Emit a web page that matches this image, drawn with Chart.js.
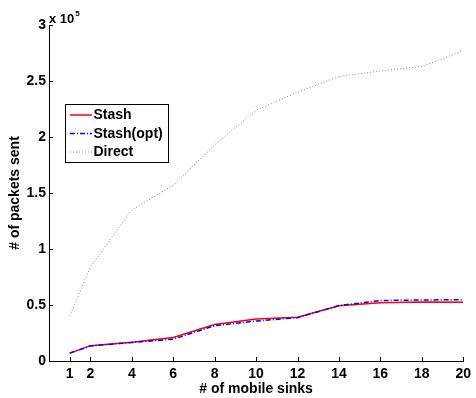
<!DOCTYPE html>
<html>
<head>
<meta charset="utf-8">
<script src="https://cdn.jsdelivr.net/npm/chart.js@4/dist/chart.umd.min.js"></script>
<style>
  html, body { margin: 0; padding: 0; background: #fff; }
  #wrap { width: 476px; height: 398px; }
</style>
</head>
<body>
<div id="wrap"><canvas id="c" width="476" height="398"></canvas></div>
<script>
// Number of mobile sinks
const sinks = [1, 2, 4, 6, 8, 10, 12, 14, 16, 18, 20];
// Packets sent
const stash    = [7000, 13700, 16700, 21000, 32500, 37500, 39000, 49300, 52000, 52700, 52400];
const stashOpt = [7000, 13500, 16500, 19500, 31500, 35700, 38700, 49500, 54000, 54500, 54700];
const direct   = [40000, 84000, 135000, 157000, 193000, 224000, 240000, 254000, 259000, 263000, 277000];
// Axis ticks
const xTicks = [1, 2, 4, 6, 8, 10, 12, 14, 16, 18, 20];
const yMax = 300000;
const yStep = 50000;

const FONT = 'Liberation Sans, Arial, Helvetica, sans-serif';

const toPts = (ys) => sinks.map((x, i) => ({ x: x, y: ys[i] }));

// Inward tick marks, legend box and exponent label
const decorations = {
  id: 'decorations',
  afterDraw(chart) {
    const ctx = chart.ctx;
    const xs = chart.scales.x, ys = chart.scales.y;
    const area = chart.chartArea;
    ctx.save();
    ctx.strokeStyle = '#000';
    ctx.lineWidth = 1;
    ctx.beginPath();
    xs.ticks.forEach(t => {
      const px = Math.round(xs.getPixelForValue(t.value)) + 0.5;
      ctx.moveTo(px, area.bottom);
      ctx.lineTo(px, area.bottom - 4);
    });
    ys.ticks.forEach(t => {
      const py = Math.round(ys.getPixelForValue(t.value)) + 0.5;
      ctx.moveTo(area.left, py);
      ctx.lineTo(area.left + 4, py);
    });
    ctx.stroke();

    // exponent label
    ctx.fillStyle = '#000';
    ctx.textBaseline = 'alphabetic';
    ctx.textAlign = 'left';
    ctx.font = 'bold 13px ' + FONT;
    ctx.fillText('x 10', area.left, area.top - 2);
    const w = ctx.measureText('x 10').width;
    ctx.font = 'bold 8px ' + FONT;
    ctx.fillText('5', area.left + w + 1, area.top - 9);

    // legend
    const lx = 65.5, ly = 104.5, lw = 103, lh = 58;
    ctx.fillStyle = '#fff';
    ctx.fillRect(lx, ly, lw, lh);
    ctx.strokeStyle = '#000';
    ctx.lineWidth = 1;
    ctx.strokeRect(lx, ly, lw, lh);
    const rowY = [115, 133.5, 152];
    chart.data.datasets.forEach((ds, i) => {
      const y = rowY[i];
      ctx.save();
      ctx.strokeStyle = ds.borderColor;
      ctx.lineWidth = ds.borderWidth;
      ctx.setLineDash(ds.borderDash || []);
      ctx.beginPath();
      ctx.moveTo(70, y);
      ctx.lineTo(92, y);
      ctx.stroke();
      ctx.restore();
      ctx.fillStyle = '#000';
      ctx.font = 'bold 14px ' + FONT;
      ctx.textBaseline = 'middle';
      ctx.fillText(ds.label, 93.5, y + 0.5);
    });
    ctx.restore();
  }
};

new Chart(document.getElementById('c'), {
  type: 'line',
  data: {
    datasets: [
      { label: 'Stash', data: toPts(stash), borderColor: '#ff0000', borderWidth: 1.5,
        pointRadius: 0, tension: 0, fill: false, order: 1 },
      { label: 'Stash(opt)', data: toPts(stashOpt), borderColor: '#0000ff', borderWidth: 1.5,
        borderDash: [5, 2, 1, 2], pointRadius: 0, tension: 0, fill: false, order: 0 },
      { label: 'Direct', data: toPts(direct), borderColor: '#8a8a8a', borderWidth: 1,
        borderDash: [1, 2], pointRadius: 0, tension: 0, fill: false, order: 2 }
    ]
  },
  options: {
    responsive: false,
    animation: false,
    devicePixelRatio: 1,
    layout: { padding: { left: 0, right: 8, top: 25, bottom: 0 } },
    plugins: { legend: { display: false }, tooltip: { enabled: false } },
    scales: {
      x: {
        type: 'linear', min: 0, max: 20,
        afterBuildTicks: (s) => { s.ticks = xTicks.map(v => ({ value: v })); },
        afterFit: (s) => { s.height = 37; },
        grid: { display: false, drawTicks: false },
        border: { display: true, color: '#000', width: 1 },
        ticks: { color: '#000', font: { family: FONT, size: 14, weight: 'bold' }, padding: 5,
                 maxRotation: 0, autoSkip: false },
        title: { display: true, text: '# of mobile sinks', color: '#000',
                 font: { family: FONT, size: 14, weight: 'bold' }, padding: { top: 0, bottom: 0 } }
      },
      y: {
        type: 'linear', min: 0, max: yMax,
        afterFit: (s) => { s.width = 49; },
        grid: { display: false, drawTicks: false },
        border: { display: true, color: '#000', width: 1 },
        ticks: { stepSize: yStep, color: '#000', font: { family: FONT, size: 14, weight: 'bold' },
                 padding: 3, callback: (v) => String(v / 100000) },
        title: { display: true, text: '# of packets sent', color: '#000',
                 font: { family: FONT, size: 14, weight: 'bold' }, padding: { top: 7, bottom: 0 } }
      }
    }
  },
  plugins: [decorations]
});
</script>
</body>
</html>
